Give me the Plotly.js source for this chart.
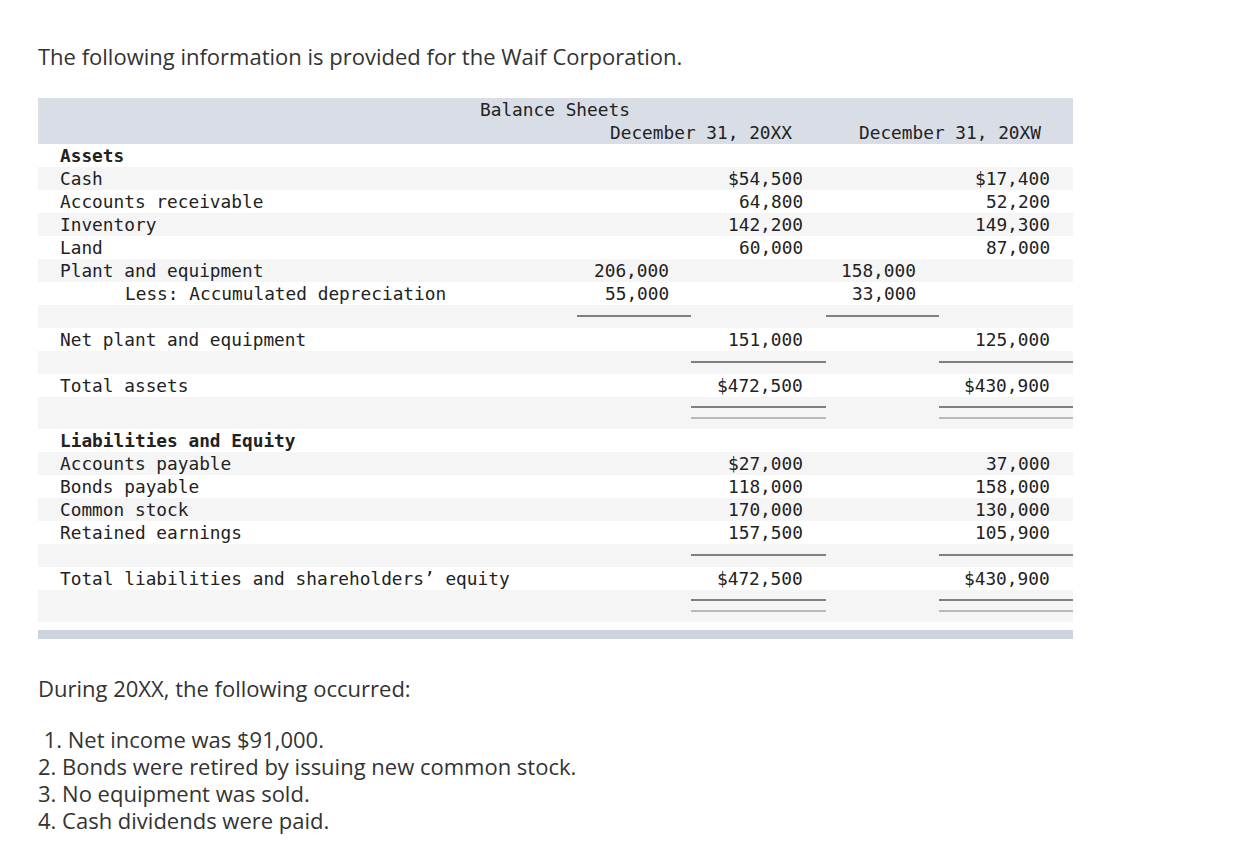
<!DOCTYPE html>
<html>
<head>
<meta charset="utf-8">
<script src="https://cdn.plot.ly/plotly-3.0.1.min.js"></script>
<style>
  html, body { margin: 0; padding: 0; background: #fff; }
  #plotDiv { width: 1253px; height: 862px; }
</style>
</head>
<body>
<div id="plotDiv"></div>
<script>
// --- data ---
const introText = 'The following information is provided for the Waif Corporation.';
const tableTitle = 'Balance Sheets';
const columnDates = ['December 31, 20XX', 'December 31, 20XW'];

const assetLabels = ['Cash', 'Accounts receivable', 'Inventory', 'Land'];
const assets20XX = [54500, 64800, 142200, 60000];
const assets20XW = [17400, 52200, 149300, 87000];

const plantLabels = ['Plant and equipment', 'Less: Accumulated depreciation'];
const plant20XX = [206000, 55000];
const plant20XW = [158000, 33000];

const netPlant = [151000, 125000];
const totalAssets = [472500, 430900];

const liabLabels = ['Accounts payable', 'Bonds payable', 'Common stock', 'Retained earnings'];
const liab20XX = [27000, 118000, 170000, 157500];
const liab20XW = [37000, 158000, 130000, 105900];
const totalLiabEquity = [472500, 430900];

const noteHeading = 'During 20XX, the following occurred:';
const notes = [
    ' 1. Net income was $91,000.',
    '2. Bonds were retired by issuing new common stock.',
    '3. No equipment was sold.',
    '4. Cash dividends were paid.'
];

// --- page geometry ---
const W = 1253, H = 862;
const tableLeft = 38, tableRight = 1073;
const labelX = 59, indentX = 124;
const colRight = [670, 804, 917, 1051];      // right edges of value columns
const colSpan = [[577, 691], [691, 826], [826, 939], [939, 1073]];
const rowH = 23, dblRowH = 32, tableTop = 144;

const mono = 'DejaVu Sans Mono, Consolas, monospace';
const monoSize = 17.8;
const sans = 'Open Sans, Noto Sans, sans-serif';
const sansSize = 22;
const textColor = '#222';

const fmt = (v, dollar) => (dollar ? '$' : '') + v.toLocaleString('en-US');

// rows: label, values per column [c0..c3], underline columns
const rows = [];
rows.push({label: 'Assets', bold: true});
assetLabels.forEach((lab, i) => rows.push({
    label: lab,
    vals: [null, fmt(assets20XX[i], i === 0), null, fmt(assets20XW[i], i === 0)]
}));
rows.push({label: plantLabels[0], vals: [fmt(plant20XX[0]), null, fmt(plant20XW[0]), null]});
rows.push({label: plantLabels[1], indent: true, vals: [fmt(plant20XX[1]), null, fmt(plant20XW[1]), null]});
rows.push({line: [0, 2]});
rows.push({label: 'Net plant and equipment', vals: [null, fmt(netPlant[0]), null, fmt(netPlant[1])]});
rows.push({line: [1, 3]});
rows.push({label: 'Total assets', vals: [null, fmt(totalAssets[0], true), null, fmt(totalAssets[1], true)]});
rows.push({dbl: [1, 3]});
rows.push({label: 'Liabilities and Equity', bold: true});
liabLabels.forEach((lab, i) => rows.push({
    label: lab,
    vals: [null, fmt(liab20XX[i], i === 0), null, fmt(liab20XW[i], false)]
}));
rows.push({line: [1, 3]});
rows.push({label: 'Total liabilities and shareholders\u2019 equity',
    vals: [null, fmt(totalLiabEquity[0], true), null, fmt(totalLiabEquity[1], true)]});
rows.push({dbl: [1, 3]});

const shapes = [];
const annotations = [];

function txt(x, y, text, opts) {
    annotations.push(Object.assign({
        x: x, y: y, xref: 'x', yref: 'y', text: text, showarrow: false,
        xanchor: 'left', yanchor: 'middle', borderpad: 0,
        font: {family: mono, size: monoSize, color: textColor}
    }, opts || {}));
}

function rect(x0, x1, y0, y1, color) {
    shapes.push({type: 'rect', xref: 'x', yref: 'y', x0: x0, x1: x1, y0: y0, y1: y1,
        fillcolor: color, line: {width: 0}, layer: 'below'});
}

function hline(x0, x1, y, w) {
    shapes.push({type: 'line', xref: 'x', yref: 'y', x0: x0, x1: x1, y0: y, y1: y,
        line: {color: '#808080', width: w}});
}

// header band
rect(tableLeft, tableRight, 98, tableTop, '#d9dde6');
txt(555, 109, tableTitle, {xanchor: 'center'});
txt(701, 132, columnDates[0], {xanchor: 'center'});
txt(950, 132, columnDates[1], {xanchor: 'center'});

// body rows
let y = tableTop;
rows.forEach((r, i) => {
    const h = r.dbl ? dblRowH : rowH;
    if (i % 2 === 1) rect(tableLeft, tableRight, y, y + h, '#f5f5f5');
    const mid = y + h / 2;
    if (r.label) {
        txt(r.indent ? indentX : labelX, mid, r.bold ? '<b>' + r.label + '</b>' : r.label);
    }
    if (r.vals) {
        r.vals.forEach((v, c) => {
            if (v !== null) txt(colRight[c], mid, v, {xanchor: 'right'});
        });
    }
    if (r.line) r.line.forEach(c => hline(colSpan[c][0], colSpan[c][1], y + 11, 2));
    if (r.dbl) r.dbl.forEach(c => {
        hline(colSpan[c][0], colSpan[c][1], y + 10, 2);
        hline(colSpan[c][0], colSpan[c][1], y + 21, 1);
    });
    y += h;
});

// bottom band
rect(tableLeft, tableRight, y + 8, y + 17, '#cdd3df');

// surrounding text
const sansFont = {family: sans, size: sansSize, color: '#333'};
txt(37, 56, introText, {font: sansFont});
txt(37, 688, noteHeading, {font: sansFont});
notes.forEach((n, i) => txt(37, 739 + 27 * i, n, {font: sansFont}));

const data = [{x: [0, W], y: [0, H], mode: 'markers', marker: {opacity: 0}, hoverinfo: 'skip', showlegend: false}];

const layout = {
    width: W,
    height: H,
    margin: {l: 0, r: 0, t: 0, b: 0},
    paper_bgcolor: '#fff',
    plot_bgcolor: '#fff',
    xaxis: {range: [0, W], visible: false, fixedrange: true},
    yaxis: {range: [H, 0], visible: false, fixedrange: true},
    shapes: shapes,
    annotations: annotations,
    showlegend: false
};

Plotly.newPlot('plotDiv', data, layout, {displayModeBar: false, staticPlot: true}).catch(error => {
    console.error('Error in balance sheet plot:', error);
});
</script>
</body>
</html>
